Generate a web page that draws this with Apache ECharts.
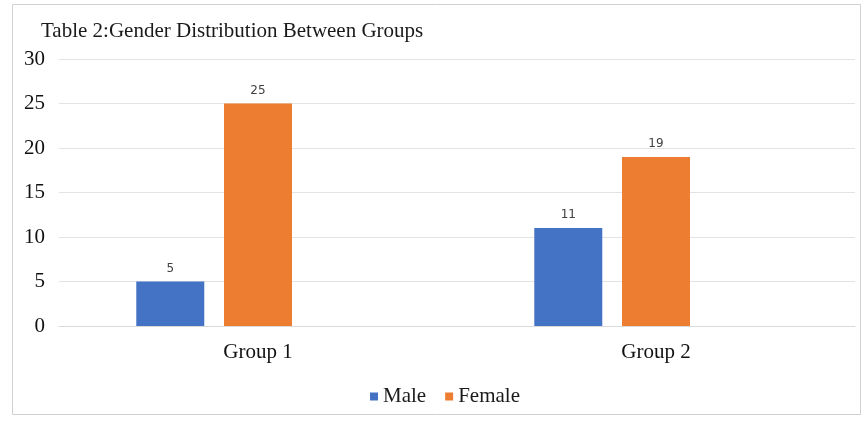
<!DOCTYPE html>
<html>
<head>
<meta charset="utf-8">
<script src="https://cdn.jsdelivr.net/npm/echarts@6/dist/echarts.min.js"></script>
<style>
  html, body { margin: 0; padding: 0; background: #ffffff; }
  #chart { width: 863px; height: 422px; }
</style>
</head>
<body>
<div id="chart"></div>
<script>
// Chart data
const categories = ['Group 1', 'Group 2'];
const maleValues = [5, 11];
const femaleValues = [25, 19];
// Third (empty) series keeps the bar slots laid out as in a three-series Excel chart
const reservedValues = [null, null];
const yTicks = { min: 0, max: 30, interval: 5 };

const serif = '"Liberation Serif", "Times New Roman", serif';
const labelStyle = {
  show: true,
  position: 'top',
  distance: 7,
  color: '#404040',
  fontFamily: '"DejaVu Sans", sans-serif',
  fontSize: 12
};

const chart = echarts.init(document.getElementById('chart'));
chart.setOption({
  animation: false,
  backgroundColor: '#ffffff',
  graphic: [{
    type: 'rect',
    shape: { x: 12.5, y: 4.5, width: 848, height: 410 },
    style: { fill: 'none', stroke: '#d0d0d0', lineWidth: 1 },
    silent: true,
    z: -1
  }],
  title: {
    text: 'Table 2:Gender Distribution Between Groups',
    left: 36,
    top: 16,
    textStyle: { fontFamily: serif, fontWeight: 'normal', fontSize: 21, color: '#1a1a1a' }
  },
  legend: {
    bottom: 10,
    left: 365,
    itemWidth: 8,
    itemHeight: 8,
    itemGap: 19,
    icon: 'rect',
    data: ['Male', 'Female'],
    textStyle: { fontFamily: serif, fontSize: 21, color: '#1a1a1a' }
  },
  grid: { left: 59, right: 8, top: 59, bottom: 96 },
  xAxis: {
    type: 'category',
    data: categories,
    axisLine: { show: true, lineStyle: { color: '#d9d9d9' } },
    axisTick: { show: false },
    axisLabel: { fontFamily: serif, fontSize: 21, color: '#111111', margin: 16 }
  },
  yAxis: {
    type: 'value',
    min: yTicks.min,
    max: yTicks.max,
    interval: yTicks.interval,
    axisLine: { show: false },
    axisTick: { show: false },
    splitLine: { lineStyle: { color: '#e3e3e3' } },
    axisLabel: { fontFamily: serif, fontSize: 21, color: '#111111', margin: 14 }
  },
  series: [
    {
      name: 'Male', type: 'bar', data: maleValues,
      barWidth: 68, barGap: '29%', barCategoryGap: '38.7%',
      itemStyle: { color: '#4472C4' }, label: labelStyle
    },
    {
      name: 'Female', type: 'bar', data: femaleValues,
      barWidth: 68,
      itemStyle: { color: '#ED7D31' }, label: labelStyle
    },
    {
      name: 'Reserved', type: 'bar', data: reservedValues,
      barWidth: 68,
      itemStyle: { color: '#A5A5A5' }
    }
  ]
});
</script>
</body>
</html>
